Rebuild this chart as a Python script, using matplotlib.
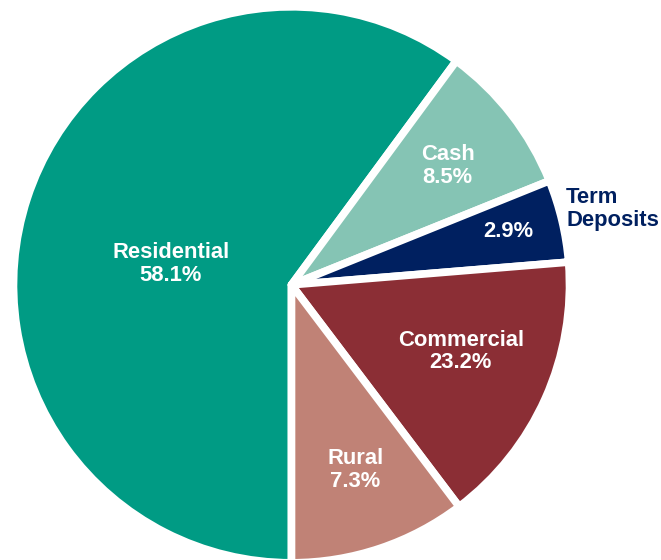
import numpy as np
import matplotlib
matplotlib.use("Agg")
import matplotlib.pyplot as plt

plt.rcParams['font.family'] = ['Liberation Sans', 'DejaVu Sans']

# slice sizes as drawn (share of the circle, %), and the printed labels
segments = ["Residential", "Cash", "Term Deposits", "Commercial", "Rural"]
shares = [60.1, 8.8, 4.8, 16.0, 10.3]
pct_labels = ["58.1%", "8.5%", "2.9%", "23.2%", "7.3%"]
colors = ["#009B84", "#85C4B4", "#002060", "#8B2E35", "#C08276"]

radius = 278.
center = (291.5, 275.2)
explode_px = [1., 4., 4., 5., 2.]

fig = plt.figure(figsize=(6.61, 5.6), dpi=100)
ax = fig.add_axes([0, 0, 1, 1])

wedges, _ = ax.pie(shares, colors=colors, radius=radius, center=center,
                   explode=[e / radius for e in explode_px],
                   startangle=-90, counterclock=False,
                   wedgeprops=dict(edgecolor='white', linewidth=5.5,
                                   joinstyle='round'))

ax.set_xlim(0, 661)
ax.set_ylim(0, 560)
ax.set_aspect('auto')
ax.axis("off")


def label_pos(w, frac, dtheta=0.):
    ang = np.deg2rad(0.5 * (w.theta1 + w.theta2) + dtheta)
    cx, cy = w.center
    return cx + frac * w.r * np.cos(ang), cy + frac * w.r * np.sin(ang)


text_kw = dict(ha='center', va='center', color='white', fontsize=15.8,
               fontweight='bold', linespacing=1.1)

# (radial fraction, angle tweak) for each inside label
spots = [(0.44, 8.5), (0.705, -0.6), (0.802, 0.6), (0.655, 2.6), (0.705, 0.4)]
for i, (w, name, pct) in enumerate(zip(wedges, segments, pct_labels)):
    frac, dth = spots[i]
    x, y = label_pos(w, frac, dth)
    txt = pct if name == "Term Deposits" else f"{name}\n{pct}"
    ax.text(x, y, txt, **text_kw)

# the small slice gets its name outside
x, y = label_pos(wedges[2], 1.025, 2.1)
ax.text(x, y, "Term\nDeposits", ha='left', va='center', color="#002060",
        fontsize=15.8, fontweight='bold', linespacing=1.1)

plt.savefig("out.png")
